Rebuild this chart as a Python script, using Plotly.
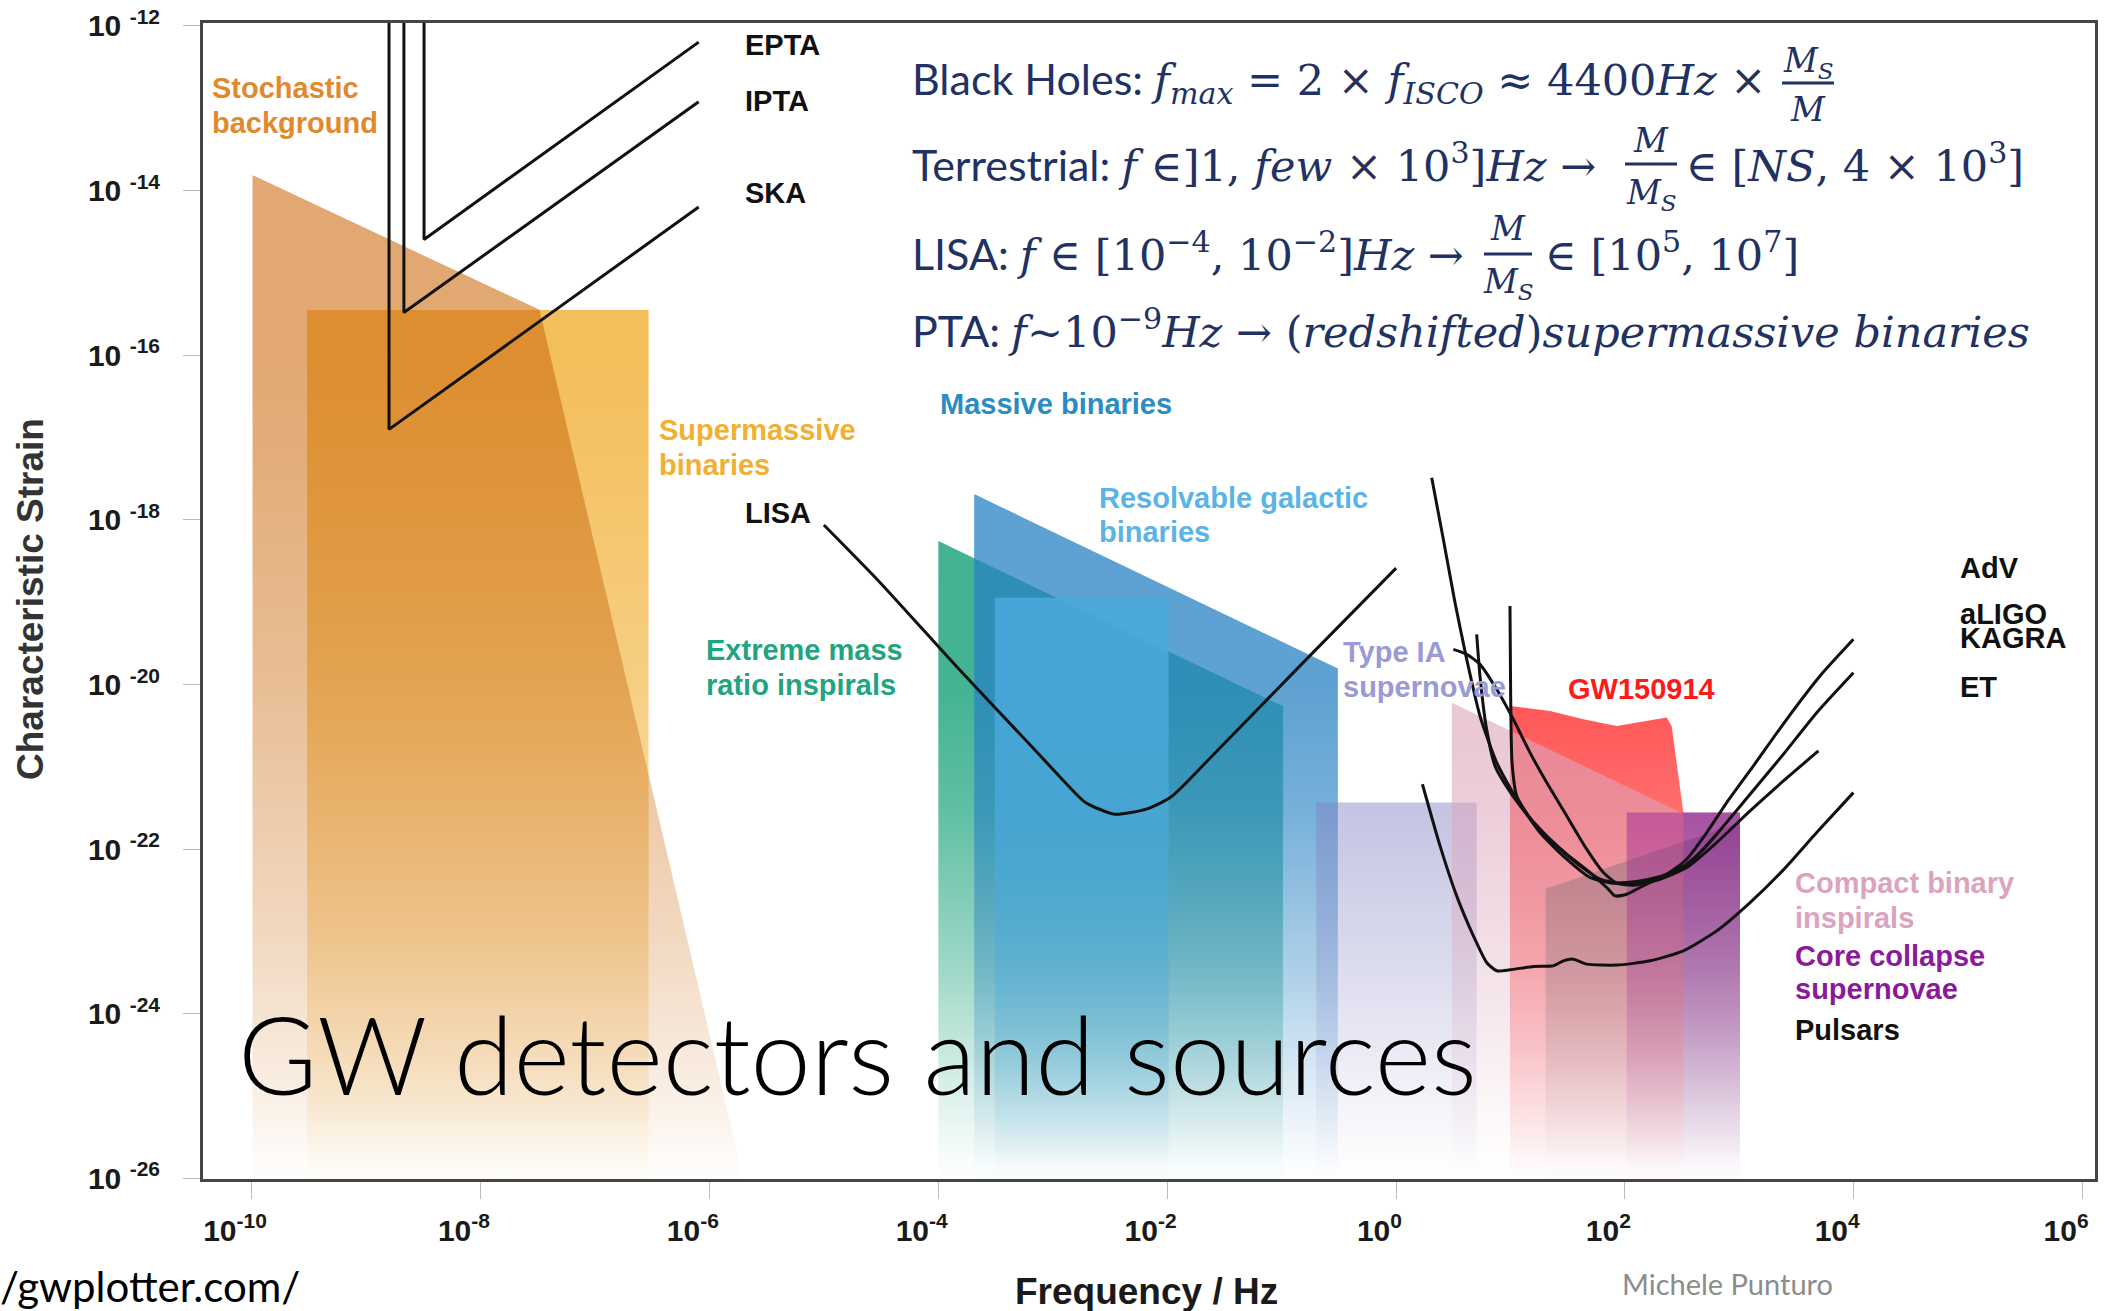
import numpy as np
import plotly.graph_objects as go

# ------------------------------------------------------------------
# Axis values (exponents of ten)
# ------------------------------------------------------------------
X_TICK_EXP = [-10, -8, -6, -4, -2, 0, 2, 4, 6]
Y_TICK_EXP = [-26, -24, -22, -20, -18, -16, -14, -12]
X_RANGE_EXP = [-10.4255, 6.107]
Y_RANGE_EXP = [-26.005, -11.964]

# ------------------------------------------------------------------
# Detector sensitivity curves: log10(frequency/Hz), log10(characteristic strain)
# ------------------------------------------------------------------
EPTA_LOGF = [-8.494, -8.494, -6.094]
EPTA_LOGH = [-11.5, -14.593, -12.196]
IPTA_LOGF = [-8.670, -8.670, -6.094]
IPTA_LOGH = [-11.5, -15.480, -12.920]
SKA_LOGF = [-8.800, -8.800, -6.094]
SKA_LOGH = [-11.5, -16.900, -14.200]

LISA_LOGF = [-5.000, -4.506, -3.847, -3.176, -2.906, -2.718, -2.459, -2.176, -1.965,
             -1.612, -1.165, -0.729, 0.000]
LISA_LOGH = [-18.062, -18.765, -19.771, -20.765, -21.167, -21.428, -21.575, -21.510, -21.363,
             -20.873, -20.235, -19.614, -18.585]

ADV_LOGF = [0.311, 0.413, 0.515, 0.617, 0.733, 0.879, 1.054, 1.257, 1.491, 1.694, 1.898,
            2.131, 2.364, 2.539, 2.714, 2.889, 3.122, 3.413, 3.704, 3.996]
ADV_LOGH = [-17.488, -18.237, -19.005, -19.693, -20.381, -20.947, -21.392, -21.797, -22.121,
            -22.343, -22.412, -22.384, -22.303, -22.121, -21.797, -21.433, -20.988, -20.421,
            -19.895, -19.450]
ALIGO_LOGF = [0.995, 1.001, 1.013, 1.054, 1.199, 1.403, 1.607, 1.782, 1.957, 2.190, 2.423,
              2.597, 2.801, 3.093, 3.384, 3.675, 3.996]
ALIGO_LOGH = [-19.046, -20.138, -20.947, -21.352, -21.676, -21.959, -22.202, -22.364, -22.412,
              -22.384, -22.291, -22.121, -21.817, -21.332, -20.846, -20.341, -19.855]
KAGRA_LOGF = [0.500, 0.617, 0.733, 0.879, 1.024, 1.170, 1.316, 1.491, 1.665, 1.811, 1.928,
              2.073, 2.306, 2.539, 2.801, 3.093, 3.384, 3.690]
KAGRA_LOGH = [-19.572, -19.632, -19.754, -20.057, -20.421, -20.826, -21.190, -21.595, -21.999,
              -22.282, -22.412, -22.436, -22.364, -22.222, -21.918, -21.534, -21.170, -20.806]
KAGRA2_LOGF = [0.704, 0.733, 0.786, 0.864, 0.952, 1.083, 1.287, 1.491, 1.694, 1.840, 1.913,
               2.015, 2.131, 2.306, 2.539, 2.685, 2.801]
KAGRA2_LOGH = [-19.390, -19.895, -20.502, -20.988, -21.210, -21.473, -21.797, -22.060, -22.282,
               -22.464, -22.566, -22.546, -22.464, -22.343, -22.181, -21.999, -21.817]
ET_LOGF = [0.230, 0.384, 0.529, 0.675, 0.791, 0.879, 0.995, 1.199, 1.374, 1.461, 1.549,
           1.665, 1.928, 2.219, 2.510, 2.801, 3.093, 3.384, 3.675, 3.996]
ET_LOGH = [-21.210, -21.959, -22.566, -23.051, -23.375, -23.476, -23.464, -23.423, -23.415,
           -23.355, -23.335, -23.395, -23.407, -23.355, -23.233, -22.991, -22.647, -22.250,
           -21.797, -21.312]

# ------------------------------------------------------------------
# Source regions (polygons): log10(f), log10(h)
# ------------------------------------------------------------------
SMBH_LOGF = [-9.516, -9.516, -6.532, -6.532]
SMBH_LOGH = [-26.2, -15.449, -15.449, -26.2]
STOCH_LOGF = [-9.993, -9.993, -7.485, -5.670]
STOCH_LOGH = [-26.2, -13.812, -15.448, -26.2]
EMRI_LOGF = [-4.000, -4.000, -0.988, -0.988]
EMRI_LOGH = [-26.2, -18.255, -20.263, -26.2]
MBH_LOGF = [-3.687, -3.687, -0.509, -0.509]
MBH_LOGH = [-26.2, -17.686, -19.805, -26.2]
RGB_LOGF = [-3.506, -3.506, -1.988, -1.988]
RGB_LOGH = [-26.2, -18.944, -18.944, -26.2]
SN1A_LOGF = [-0.698, -0.698, 0.704, 0.704]
SN1A_LOGH = [-26.2, -21.431, -21.431, -26.2]
GW150914_LOGF = [0.995, 0.995, 1.345, 1.636, 1.928, 2.131, 2.364, 2.408, 2.452, 2.495, 2.510, 2.510]
GW150914_LOGH = [-26.2, -20.260, -20.320, -20.421, -20.502, -20.454, -20.401, -20.502, -20.947,
                 -21.352, -21.554, -26.2]
CBC_LOGF = [0.486, 0.486, 2.510, 2.510]
CBC_LOGH = [-26.2, -20.219, -21.569, -26.2]
PSR_LOGF = [1.306, 1.306, 3.005, 3.005]
PSR_LOGH = [-26.2, -22.484, -21.673, -26.2]
CCSN_LOGF = [2.015, 2.015, 3.005, 3.005]
CCSN_LOGH = [-26.2, -21.552, -21.552, -26.2]
CCSN_CORE_LOGF = [2.510, 2.510, 3.005, 3.005]
CCSN_CORE_LOGH = [-26.2, -21.552, -21.552, -26.2]

# ------------------------------------------------------------------
# Labels: text, log10(f), log10(h), colour
# ------------------------------------------------------------------
LABELS = [
    ("Stochastic", -10.365, -12.752, "#e2892c"),
    ("background", -10.365, -13.176, "#e2892c"),
    ("EPTA", -5.706, -12.229, "#111111"),
    ("IPTA", -5.706, -12.915, "#111111"),
    ("SKA", -5.706, -14.026, "#111111"),
    ("Supermassive", -6.459, -16.902, "#f1b02f"),
    ("binaries", -6.459, -17.327, "#f1b02f"),
    ("LISA", -5.706, -17.915, "#111111"),
    ("Massive binaries", -4.000, -16.591, "#2a8cc4"),
    ("Resolvable galactic", -2.612, -17.735, "#5ab4e6"),
    ("binaries", -2.612, -18.144, "#5ab4e6"),
    ("Extreme mass", -6.047, -19.582, "#1fa57f"),
    ("ratio inspirals", -6.047, -20.007, "#1fa57f"),
    ("Type IA", -0.482, -19.598, "#9a9ad4"),
    ("supernovae", -0.482, -20.023, "#9a9ad4"),
    ("GW150914", 1.482, -20.056, "#ff1a1a"),
    ("AdV", 4.906, -18.585, "#111111"),
    ("aLIGO", 4.906, -19.140, "#111111"),
    ("KAGRA", 4.906, -19.430, "#111111"),
    ("ET", 4.906, -20.023, "#111111"),
    ("Compact binary", 3.471, -22.408, "#dca3c0"),
    ("inspirals", 3.471, -22.833, "#dca3c0"),
    ("Core collapse", 3.471, -23.291, "#8a1a9a"),
    ("supernovae", 3.471, -23.699, "#8a1a9a"),
    ("Pulsars", 3.471, -24.190, "#111111"),
]

# ------------------------------------------------------------------
# Page geometry / styling
# ------------------------------------------------------------------
W, H = 2111, 1311
ML, MR, MT, MB = 203, 16, 23, 132
PW, PH = W - ML - MR, H - MT - MB
CHART_FONT = "Liberation Sans"
SLIDE_FONT = "Lato"
MATH_FONT = "DejaVu Serif"
NAVY = "#1f3263"


def px2paper(px, py):
    return (px - ML) / PW, (H - MB - py) / PH


FADE = [(-26.3, 0.0), (-25.85, 0.02), (-25.0, 0.18), (-23.5, 0.5), (-21.5, 0.85), (-20.0, 1.0)]
FADE_SLOW = [(-26.3, 0.0), (-25.85, 0.03), (-25.0, 0.18), (-23.0, 0.45), (-20.0, 0.75),
             (-17.5, 0.92), (-16.0, 1.0)]


def fade_scale(rgb, alpha, logh, profile):
    lo, hi = min(logh), max(logh)
    pts = [lo] + [p for p, _ in profile if lo < p < hi] + [hi]
    fx = [p for p, _ in profile]
    fa = [a for _, a in profile]
    out = []
    for p in pts:
        m = float(np.interp(p, fx, fa))
        out.append([(p - lo) / (hi - lo), "rgba(%d,%d,%d,%.3f)" % (rgb[0], rgb[1], rgb[2], alpha * m)])
    return out


def region(logf, logh, rgb, alpha, name, profile=FADE):
    return go.Scatter(
        x=10 ** np.array(logf), y=10 ** np.array(logh), mode="lines", fill="toself",
        line=dict(width=0, color="rgba(0,0,0,0)"),
        fillgradient=dict(type="vertical", colorscale=fade_scale(rgb, alpha, logh, profile)),
        name=name, showlegend=False, hoverinfo="skip")


def curve(logf, logh, name, smooth=True, width=3):
    return go.Scatter(
        x=10 ** np.array(logf), y=10 ** np.array(logh), mode="lines",
        line=dict(color="#111111", width=width, shape="spline" if smooth else "linear", smoothing=0.6),
        name=name, showlegend=False, hoverinfo="skip")


fig = go.Figure()
fig.add_trace(region(SMBH_LOGF, SMBH_LOGH, (240, 175, 50), 0.80, "Supermassive binaries", FADE_SLOW))
fig.add_trace(region(STOCH_LOGF, STOCH_LOGH, (205, 110, 20), 0.60, "Stochastic background", FADE_SLOW))
fig.add_trace(region(EMRI_LOGF, EMRI_LOGH, (20, 160, 120), 0.80, "EMRI"))
fig.add_trace(region(MBH_LOGF, MBH_LOGH, (40, 130, 195), 0.75, "Massive binaries"))
fig.add_trace(region(RGB_LOGF, RGB_LOGH, (75, 170, 220), 0.85, "Resolvable galactic binaries"))
fig.add_trace(region(SN1A_LOGF, SN1A_LOGH, (130, 130, 195), 0.55, "Type IA supernovae"))
fig.add_trace(region(GW150914_LOGF, GW150914_LOGH, (255, 40, 40), 0.80, "GW150914"))
fig.add_trace(region(CBC_LOGF, CBC_LOGH, (221, 166, 188), 0.65, "Compact binary inspirals"))
fig.add_trace(region(PSR_LOGF, PSR_LOGH, (90, 100, 108), 0.45, "Pulsars"))
fig.add_trace(region(CCSN_LOGF, CCSN_LOGH, (150, 30, 150), 0.55, "Core collapse supernovae"))
fig.add_trace(region(CCSN_CORE_LOGF, CCSN_CORE_LOGH, (120, 0, 110), 0.55, "Core collapse supernovae"))

fig.add_trace(curve(EPTA_LOGF, EPTA_LOGH, "EPTA", smooth=False))
fig.add_trace(curve(IPTA_LOGF, IPTA_LOGH, "IPTA", smooth=False))
fig.add_trace(curve(SKA_LOGF, SKA_LOGH, "SKA", smooth=False))
fig.add_trace(curve(LISA_LOGF, LISA_LOGH, "LISA"))
fig.add_trace(curve(ADV_LOGF, ADV_LOGH, "AdV"))
fig.add_trace(curve(ALIGO_LOGF, ALIGO_LOGH, "aLIGO"))
fig.add_trace(curve(KAGRA_LOGF, KAGRA_LOGH, "KAGRA"))
fig.add_trace(curve(KAGRA2_LOGF, KAGRA2_LOGH, "KAGRA"))
fig.add_trace(curve(ET_LOGF, ET_LOGH, "ET"))

annotations = []
for text, lx, ly, col in LABELS:
    annotations.append(dict(x=lx, y=ly, xref="x", yref="y", text=text, showarrow=False,
                            xanchor="left", yanchor="middle",
                            font=dict(family=CHART_FONT, size=29, color=col, weight="bold")))


def add_paper_text(text, px, py, size, family, color, xanchor="left", angle=0, weight="normal"):
    x, y = px2paper(px, py)
    annotations.append(dict(x=x, y=y, xref="paper", yref="paper", text=text, showarrow=False,
                            xanchor=xanchor, yanchor="middle", textangle=angle,
                            font=dict(family=family, size=size, color=color, weight=weight)))


add_paper_text("Characteristic Strain", 30, 599, 37, CHART_FONT, "#333333", xanchor="center", angle=-90, weight="bold")
add_paper_text("Frequency / Hz", 1146, 1292, 37, CHART_FONT, "#1a1a1a", xanchor="center", weight="bold")
add_paper_text("GW detectors and sources", 236, 1053, 108, SLIDE_FONT, "#000000", weight=300)
add_paper_text("/gwplotter.com/", -2, 1286, 42, SLIDE_FONT, "#000000")
add_paper_text("Michele Punturo", 1620, 1283, 29, SLIDE_FONT, "#8c8c8c")


def sans(t):
    return "<span style=\"font-family:'%s'; font-size:43px\">%s</span>" % (SLIDE_FONT, t)


MATH_SIZE = 43
FORMULAS = [
    (sans("Black Holes: ") + "<i>f</i><sub><i>max</i></sub> = 2 × <i>f</i><sub><i>ISCO</i></sub> ≈ 4400<i>Hz</i> ×", 82),
    (sans("Terrestrial: ") + "<i>f</i> ∈]1, <i>few</i> × 10<sup>3</sup>]<i>Hz</i> →", 163),
    (sans("LISA: ") + "<i>f</i> ∈ [10<sup>−4</sup>, 10<sup>−2</sup>]<i>Hz</i> →", 252),
    (sans("PTA: ") + "<i>f</i>~10<sup>−9</sup><i>Hz</i> → (<i>redshifted</i>)<i>supermassive binaries</i>", 329),
]
for text, py in FORMULAS:
    add_paper_text(text, 910, py, MATH_SIZE, MATH_FONT, NAVY)

add_paper_text("∈ [<i>NS</i>, 4 × 10<sup>3</sup>]", 1684, 163, MATH_SIZE, MATH_FONT, NAVY)
add_paper_text("∈ [10<sup>5</sup>, 10<sup>7</sup>]", 1543, 252, MATH_SIZE, MATH_FONT, NAVY)

FRACTIONS = [  # numerator, denominator, centre x, numerator y, bar y, denominator y, half width
    ("<i>M</i><sub><i>S</i></sub>", "<i>M</i>", 1808, 62, 83, 109, 26),
    ("<i>M</i>", "<i>M</i><sub><i>S</i></sub>", 1651, 140, 164, 194, 26),
    ("<i>M</i>", "<i>M</i><sub><i>S</i></sub>", 1508, 229, 254, 284, 24),
]
shapes = []
for num, den, cx, ny, by, dy, hw in FRACTIONS:
    add_paper_text(num, cx, ny, 33, MATH_FONT, NAVY, xanchor="center")
    add_paper_text(den, cx, dy, 33, MATH_FONT, NAVY, xanchor="center")
    x0, y0 = px2paper(cx - hw, by)
    x1, _ = px2paper(cx + hw, by)
    shapes.append(dict(type="line", xref="paper", yref="paper", x0=x0, x1=x1, y0=y0, y1=y0,
                       line=dict(color=NAVY, width=3)))

NBSP = "\u00a0"
x_ticktext = ["10<sup>%d</sup>" % e + NBSP * 4 for e in X_TICK_EXP]
y_ticktext = ["10" + NBSP + "<sup>%d</sup>" % e for e in Y_TICK_EXP]

axis_common = dict(type="log", showgrid=False, zeroline=False, showline=True, linecolor="#454545",
                   linewidth=3, mirror=True, ticks="outside", ticklen=17, tickwidth=1,
                   tickcolor="#bbbbbb", ticklabeloverflow="allow",
                   tickfont=dict(family=CHART_FONT, size=30, color="#1a1a1a", weight="bold"))

fig.update_layout(
    width=W, height=H, margin=dict(l=ML, r=MR, t=MT, b=MB, autoexpand=False),
    paper_bgcolor="white", plot_bgcolor="white", showlegend=False,
    xaxis=dict(range=X_RANGE_EXP, tickvals=[10.0 ** e for e in X_TICK_EXP], ticktext=x_ticktext,
               ticklabelstandoff=6, **axis_common),
    yaxis=dict(range=Y_RANGE_EXP, tickvals=[10.0 ** e for e in Y_TICK_EXP], ticktext=y_ticktext,
               ticklabelstandoff=17, **axis_common),
    annotations=annotations, shapes=shapes,
)

fig.write_html("out.html")
